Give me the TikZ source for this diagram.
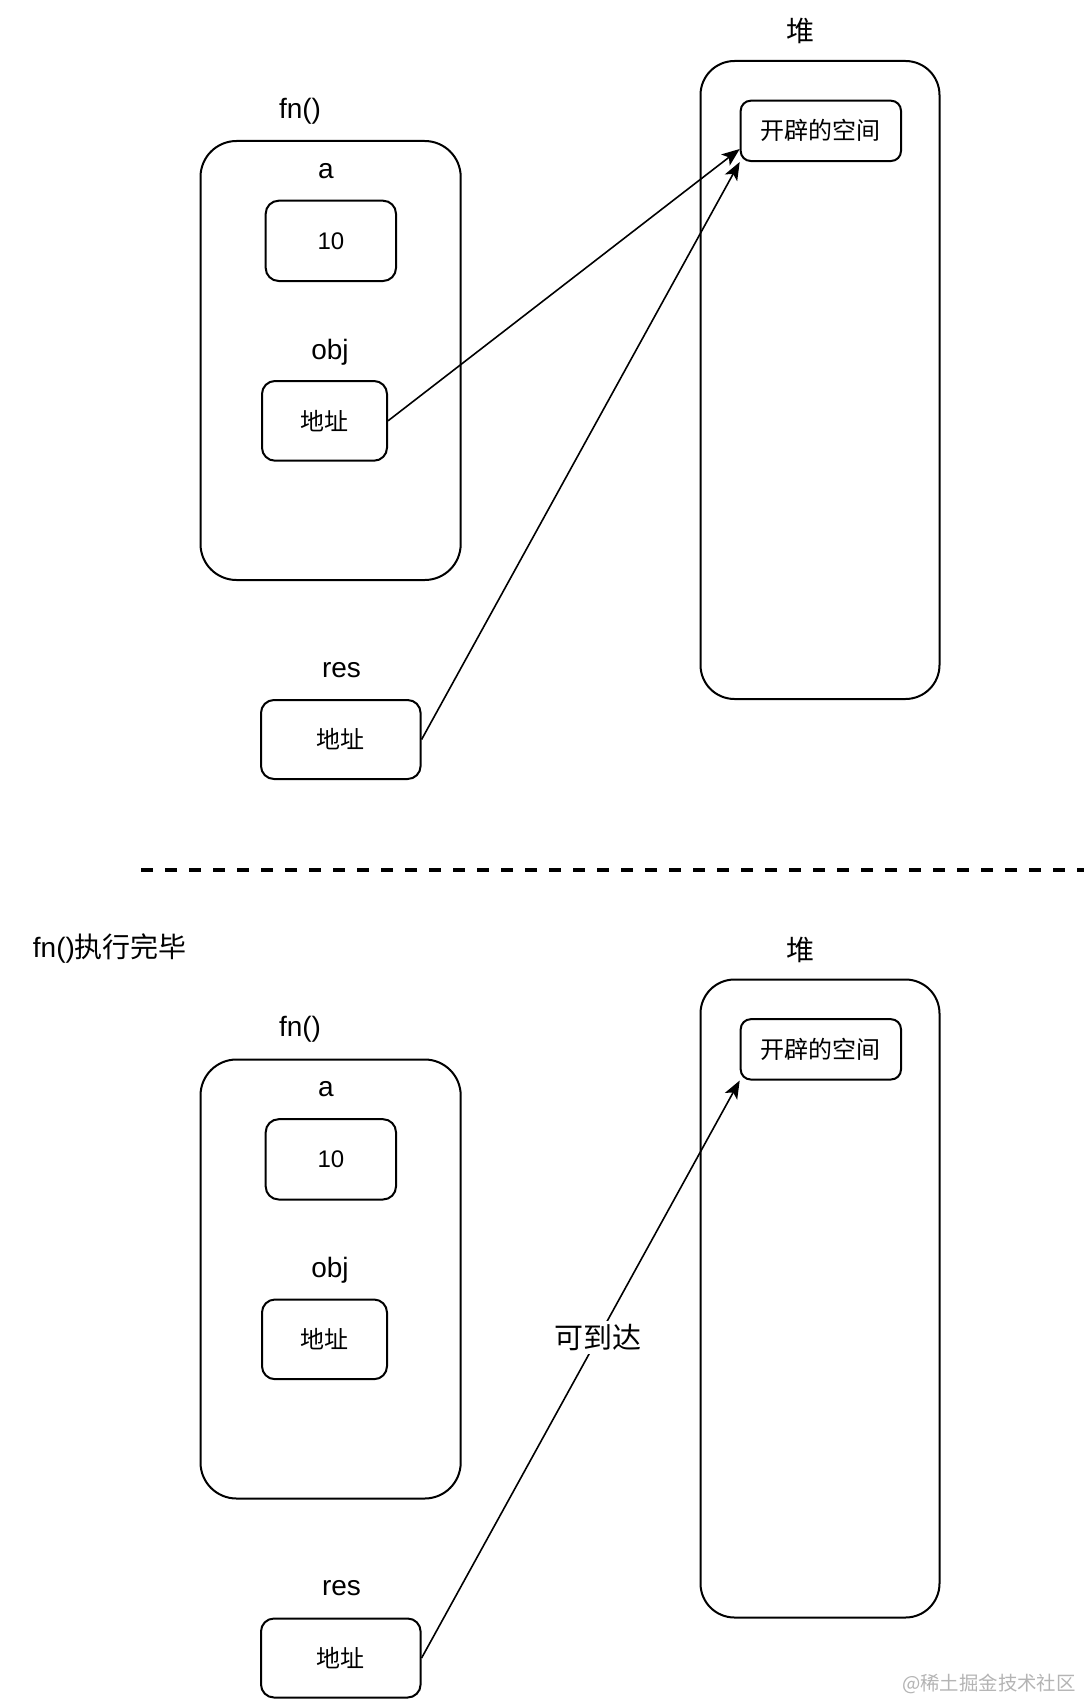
\documentclass[tikz,border=0pt]{standalone}
\usepackage{fontspec}
\setmainfont{Liberation Sans}
\newfontfamily\cjk{Noto Sans CJK SC}
\usetikzlibrary{arrows.meta,calc}
\definecolor{wmgray}{HTML}{B4B4B4}
\begin{document}
\begin{tikzpicture}[x=0.5pt,y=-0.5pt,
  box/.style={draw,line width=1pt,rounded corners=6.5pt,inner sep=0pt,font=\fontsize{12}{14}\selectfont},
  frame/.style={draw,line width=1pt,rounded corners=18pt,inner sep=0pt},
  lbl/.style={font=\fontsize{14}{16}\selectfont,inner sep=0pt},
  arr/.style={line width=0.8pt,-{Stealth[length=9pt,width=7pt,inset=2.2pt]}}]
\useasboundingbox[fill=white] (0,0) rectangle (1084,1702);
\foreach \s/\dy in {t/0,b/918.5}{
\begin{scope}[shift={(0,\dy)}]
  \node[frame,minimum width=130.1pt,minimum height=219.5pt] (fn\s) at (330.6,360.5) {};
  \node[box,minimum width=65.15pt,minimum height=40.15pt] (ten\s) at (330.85,240.85) {10};
  \node[box,minimum width=62.5pt,minimum height=39.85pt] (obj\s) at (324.5,420.85) {\cjk 地址};
  \node[box,minimum width=79.8pt,minimum height=39.5pt] (res\s) at (340.8,739.5) {\cjk 地址};
  \node[frame,rounded corners=17pt,minimum width=119.5pt,minimum height=319pt] (heap\s) at (820,380) {};
  \node[box,rounded corners=5pt,minimum width=80.15pt,minimum height=30.15pt] (space\s) at (820.85,130.85) {\cjk 开辟的空间};
  \node[lbl] (heaplbl\s) at (800,31) {\cjk 堆};
  \node[lbl] (fnlbl\s) at (300,111) {fn()};
  \node[lbl] (albl\s) at (326,171) {a};
  \node[lbl] (objlbl\s) at (330,352) {obj};
  \node[lbl] (reslbl\s) at (341.5,670) {res};
\end{scope}
}
% top arrows
\draw[arr] (objt.east) -- ($(spacet.south west)+(0,-13)$);
\draw[arr] (rest.east) -- (spacet.south west);
% separator
\coordinate (sepL) at (141,870);
\coordinate (sepR) at (1084,870);
\draw[line width=1.8pt,dash pattern=on 6pt off 6pt] (sepL) -- (sepR);
% bottom
\node[lbl,anchor=west] (donelbl) at (32.5,948.5) {fn(){\cjk 执行完毕}};
\draw[arr] (resb.east) -- (spaceb.south west)
  node[pos=0.555,fill=white,inner sep=1.5pt,font=\fontsize{14.5}{16}\selectfont] (reach) {\cjk 可到达};
\node[anchor=east,inner sep=0pt,text=wmgray,font=\fontsize{9.7}{11}\selectfont] (wm) at (1076,1684) {\cjk @稀土掘金技术社区};
\end{tikzpicture}
\end{document}
